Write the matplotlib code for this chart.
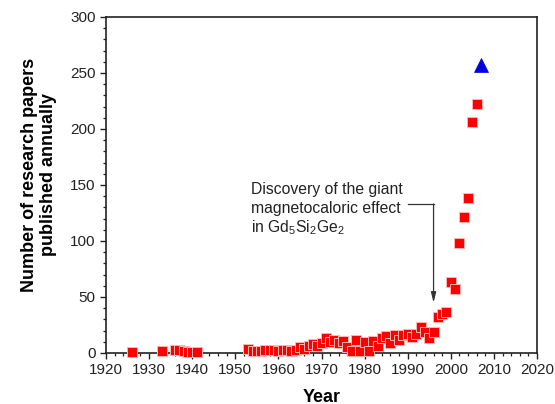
import matplotlib
matplotlib.use("Agg")
import matplotlib.pyplot as plt
from matplotlib.ticker import MultipleLocator

plt.rcParams['font.family'] = ['Liberation Sans', 'DejaVu Sans']
plt.rcParams['mathtext.fontset'] = 'custom'
plt.rcParams['mathtext.rm'] = 'Liberation Sans'
plt.rcParams['mathtext.it'] = 'Liberation Sans:italic'

# Data
years = [1926, 1933, 1936, 1937, 1938, 1939, 1940, 1941,
         1953, 1954, 1955, 1956, 1957, 1958, 1959, 1960, 1961, 1962, 1963, 1964,
         1965, 1966, 1967, 1968, 1969, 1970, 1971, 1972, 1973, 1974,
         1975, 1976, 1977, 1978, 1979, 1980, 1981, 1982, 1983, 1984,
         1985, 1986, 1987, 1988, 1989, 1990, 1991, 1992, 1993, 1994,
         1995, 1996, 1997, 1998, 1999, 2000, 2001, 2002, 2003, 2004,
         2005, 2006]
papers = [1, 2, 3, 3, 2, 1, 1, 1,
          4, 2, 2, 2, 3, 3, 3, 2, 3, 3, 2, 3,
          5, 4, 6, 8, 6, 9, 13, 10, 12, 9,
          11, 5, 2, 12, 2, 10, 2, 11, 6, 13,
          15, 9, 16, 12, 16, 17, 14, 17, 23, 19,
          13, 19, 32, 35, 37, 63, 57, 98, 121, 138,
          206, 222]
proj_year = [2007]
proj_papers = [257]

x_ticks = [1920, 1930, 1940, 1950, 1960, 1970, 1980, 1990, 2000, 2010, 2020]
y_ticks = [0, 50, 100, 150, 200, 250, 300]

note_lines = ["Discovery of the giant",
              "magnetocaloric effect",
              r"in Gd$_\mathregular{5}$Si$_\mathregular{2}$Ge$_\mathregular{2}$"]
arrow_tip = (1996, 45)
arrow_corner = (1996, 133)
arrow_start = (1990.1, 133)

fig = plt.figure(figsize=(5.55, 4.04), dpi=100)
ax = fig.add_axes([106/555, 1-353/404, 431/555, 336/404])

ax.plot(years, papers, 's', ms=7.6, color='#ff0000', mec='#ffb4b4', mew=0.7,
        clip_on=False, zorder=3)
ax.plot(proj_year, proj_papers, '^', ms=9.5, color='#0000dd', mec='#0000dd',
        mew=0.5, clip_on=False, zorder=3)

ax.set_xlim(1920, 2020)
ax.set_ylim(0, 300)
ax.set_xticks(x_ticks)
ax.set_yticks(y_ticks)
ax.xaxis.set_minor_locator(MultipleLocator(2))
ax.yaxis.set_minor_locator(MultipleLocator(10))

ax.tick_params(axis='both', which='major', direction='out', length=4.5, width=1.0,
               labelsize=11, color='#222222', labelcolor='#222222', pad=3)
ax.tick_params(axis='both', which='minor', direction='out', length=2.5, width=0.9,
               color='#222222')
for s in ax.spines.values():
    s.set_linewidth(1.2)
    s.set_color('#222222')

ax.set_xlabel('Year', fontsize=13, fontweight='bold', labelpad=8)
fig.text(39/555, 1-175/404, 'Number of research papers\npublished annually',
         rotation=90, ha='center', va='center', ma='center',
         fontsize=13, fontweight='bold', linespacing=1.2)

# annotation text
baselines = [194, 213, 232.5]
for line, by in zip(note_lines, baselines):
    ax.text(1953.6, (353 - by) / 1.12, line, fontsize=11.3, ha='left',
            va='baseline', color='#222222')

ax.plot([arrow_start[0], arrow_corner[0]], [arrow_start[1], arrow_corner[1]],
        color='#333333', lw=0.9)
ax.annotate('', xy=arrow_tip, xytext=arrow_corner,
            arrowprops=dict(arrowstyle='-|>,head_length=0.6,head_width=0.15',
                            color='#333333', lw=0.9, shrinkA=0, shrinkB=0))

fig.savefig('out.png', dpi=100)
